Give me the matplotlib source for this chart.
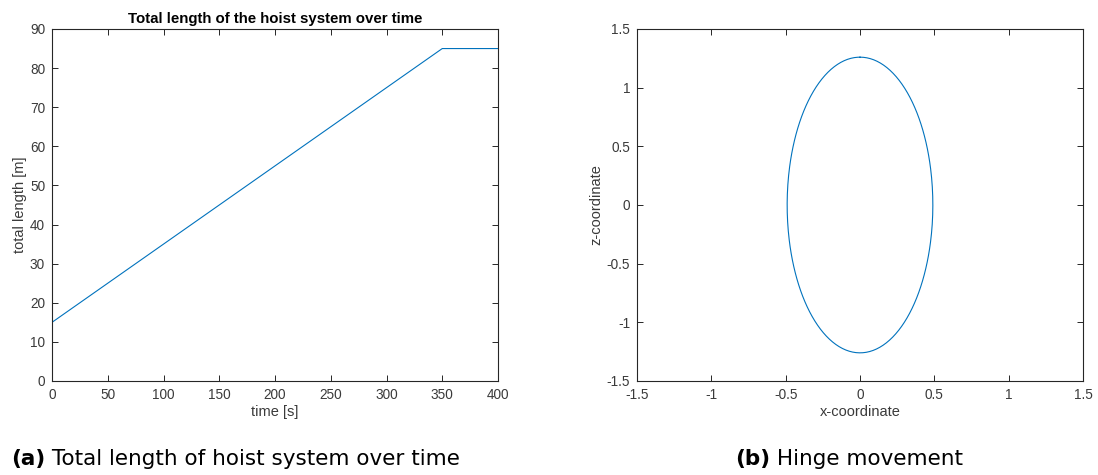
import numpy as np
import matplotlib
matplotlib.use("Agg")
import matplotlib.pyplot as plt
from matplotlib import font_manager as fm

# Data
time_s = [0, 350, 400]
total_length_m = [15, 85, 85]
ellipse_x_semi = 0.49
ellipse_z_semi = 1.26

W, H = 1098, 475

def font_file(stem, fallback_family, weight='normal'):
    for f in fm.fontManager.ttflist:
        if f.fname.split('/')[-1].startswith(stem + '.'):
            return fm.FontProperties(fname=f.fname)
    return fm.FontProperties(family=fallback_family, weight=weight)

reg = font_file('LiberationSans-Regular', 'DejaVu Sans')
bold = font_file('LiberationSans-Bold', 'DejaVu Sans', 'bold')
creg = fm.FontProperties(family='DejaVu Sans')
cbold = fm.FontProperties(family='DejaVu Sans', weight='bold')

def fp(base, size):
    p = base.copy()
    p.set_size(size)
    return p

fig = plt.figure(figsize=(W / 100, H / 100), dpi=100)

line_c = '#0072BD'
ax_c = '#262626'
lab_c = '#3a3a3a'

def make_ax(l, t, r, b):
    return fig.add_axes([l / W, 1 - b / H, (r - l) / W, (b - t) / H])

def style(ax):
    for s in ax.spines.values():
        s.set_color(ax_c)
        s.set_linewidth(0.8)
    ax.tick_params(direction='in', top=True, right=True, length=4, width=0.7,
                   colors=ax_c, labelcolor=lab_c, pad=5)
    for lab in ax.get_xticklabels() + ax.get_yticklabels():
        lab.set_fontproperties(fp(reg, 9.8))

ax1 = make_ax(52, 29, 498, 381)
ax1.plot(time_s, total_length_m, color=line_c, lw=0.8)
ax1.set_xlim(0, 400)
ax1.set_ylim(0, 90)
ax1.set_xticks(range(0, 401, 50))
ax1.set_yticks(range(0, 91, 10))
ax1.set_title('Total length of the hoist system over time', fontproperties=fp(bold, 10.8),
              pad=4, color='black')
ax1.set_xlabel('time [s]', fontproperties=fp(reg, 10.5), color=lab_c, labelpad=2)
ax1.set_ylabel('total length [m]', fontproperties=fp(reg, 10.5), color=lab_c, labelpad=2)
style(ax1)

ax2 = make_ax(637, 29, 1083, 381)
th = np.linspace(0, 2 * np.pi, 400)
ax2.plot(ellipse_x_semi * np.sin(th), ellipse_z_semi * np.cos(th), color=line_c, lw=0.8)
ax2.set_xlim(-1.5, 1.5)
ax2.set_ylim(-1.5, 1.5)
ticks = [-1.5, -1, -0.5, 0, 0.5, 1, 1.5]
labels = ['-1.5', '-1', '-0.5', '0', '0.5', '1', '1.5']
ax2.set_xticks(ticks)
ax2.set_xticklabels(labels)
ax2.set_yticks(ticks)
ax2.set_yticklabels(labels)
ax2.set_xlabel('x-coordinate', fontproperties=fp(reg, 10.5), color=lab_c, labelpad=2)
ax2.set_ylabel('z-coordinate', fontproperties=fp(reg, 10.5), color=lab_c, labelpad=2)
style(ax2)

# Captions
cap_fs = 15.5
ta = fig.text(11 / W, 1 - 465 / H, '(a)', fontproperties=fp(cbold, cap_fs), va='baseline')
fig.canvas.draw()
ax1.annotate(' Total length of hoist system over time', xy=(1, 0), xycoords=ta,
             fontproperties=fp(creg, cap_fs), va='bottom', annotation_clip=False)
tb = fig.text(735 / W, 1 - 465 / H, '(b)', fontproperties=fp(cbold, cap_fs), va='baseline')
ax2.annotate(' Hinge movement', xy=(1, 0), xycoords=tb,
             fontproperties=fp(creg, cap_fs), va='bottom', annotation_clip=False)

fig.savefig('out.png', dpi=100)
